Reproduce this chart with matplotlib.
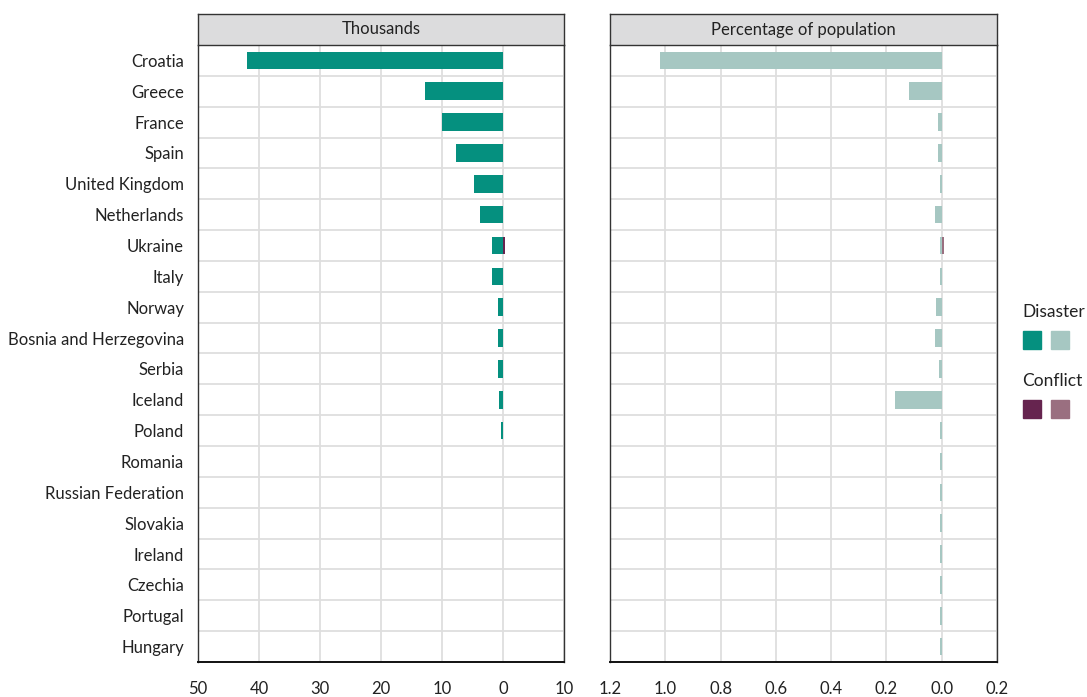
import matplotlib.pyplot as plt
from matplotlib.patches import Rectangle
from matplotlib.ticker import FixedLocator, FuncFormatter

plt.rcParams['font.family'] = ['Lato', 'DejaVu Sans']

# Données
pays = ['Croatia', 'Greece', 'France', 'Spain', 'United Kingdom', 'Netherlands',
        'Ukraine', 'Italy', 'Norway', 'Bosnia and Herzegovina', 'Serbia', 'Iceland',
        'Poland', 'Romania', 'Russian Federation', 'Slovakia', 'Ireland', 'Czechia',
        'Portugal', 'Hungary']
# milliers de personnes déplacées
disaster_k = [42.0, 12.8, 10.0, 7.7, 4.8, 3.8, 1.8, 1.8, 0.8, 0.8, 0.8, 0.6,
              0.3, 0.03, 0.03, 0.03, 0.03, 0.03, 0.03, 0.03]
conflict_k = [0, 0, 0, 0, 0, 0, 0.4, 0, 0, 0, 0, 0, 0, 0, 0, 0, 0, 0, 0, 0]
# pourcentage de la population
disaster_pct = [1.02, 0.12, 0.015, 0.015, 0.005, 0.025, 0.005, 0.005, 0.02, 0.025,
                0.01, 0.17, 0.005, 0.005, 0.005, 0.005, 0.005, 0.005, 0.005, 0.005]
conflict_pct = [0, 0, 0, 0, 0, 0, 0.01, 0, 0, 0, 0, 0, 0, 0, 0, 0, 0, 0, 0, 0]

teal, teal_l = '#05907f', '#a6c7c2'
plum, plum_l = '#66244f', '#9a6f80'

fig = plt.figure(figsize=(10.87, 6.97), dpi=100)
W, H = 1087, 697


def fx(px):
    return px / W


def fy(py):
    return 1 - py / H


y = list(range(len(pays)))
panneaux = [
    (198, 564, 'Thousands', disaster_k, conflict_k, teal, plum, (-50, 10), [-50, -40, -30, -20, -10, 0, 10], '{:.0f}'),
    (610, 997, 'Percentage of population', disaster_pct, conflict_pct, teal_l, plum_l, (-1.2, 0.2),
     [-1.2, -1.0, -0.8, -0.6, -0.4, -0.2, 0.0, 0.2], '{:.1f}'),
]

for i, (x0, x1, titre, dis, con, c_dis, c_con, lim, ticks, fmt) in enumerate(panneaux):
    ax = fig.add_axes([fx(x0), fy(662), fx(x1 - x0), fy(45) - fy(662)])
    ax.barh(y, [-v for v in dis], height=0.57, color=c_dis, zorder=3)
    ax.barh(y, con, height=0.57, color=c_con, zorder=3)
    ax.set_xlim(*lim)
    ax.set_ylim(len(pays) - 0.5, -0.5)
    ax.set_xticks(ticks)
    ax.xaxis.set_major_formatter(FuncFormatter(lambda v, p, f=fmt: f.format(abs(v))))
    ax.set_yticks(y)
    ax.yaxis.set_minor_locator(FixedLocator([k + 0.5 for k in y]))
    if i == 0:
        ax.set_yticklabels(pays, fontsize=12, color='#222222')
    else:
        ax.set_yticklabels([])
    ax.tick_params(axis='y', which='both', length=0, pad=10)
    ax.tick_params(axis='x', length=0, pad=14, labelsize=12, labelcolor='#222222')
    ax.grid(axis='x', color='#dedede', linewidth=1.3, zorder=0)
    ax.grid(axis='y', which='minor', color='#dedede', linewidth=1.3, zorder=0)
    for s in ax.spines.values():
        s.set_color('#333333')
        s.set_linewidth(1.0)
    ax.spines['top'].set_visible(False)
    ax.spines['bottom'].set_linewidth(1.4)
    ax.spines['bottom'].set_color('#111111')

    # bandeau de titre
    hx = fig.add_axes([fx(x0), fy(45), fx(x1 - x0), fy(14) - fy(45)])
    hx.set_facecolor('#dcdcdd')
    hx.set_xticks([])
    hx.set_yticks([])
    for s in hx.spines.values():
        s.set_color('#333333')
        s.set_linewidth(1.0)
    hx.text(0.5, 0.5, titre, ha='center', va='center', fontsize=12, color='#222222',
            transform=hx.transAxes)

# légende
for lab, ty, py, cols in [('Disaster', 312, 349, (teal, teal_l)), ('Conflict', 381, 418, (plum, plum_l))]:
    fig.text(fx(1022), fy(ty), lab, fontsize=12.5, color='#222222', va='center', ha='left')
    for k, c in enumerate(cols):
        fig.patches.append(Rectangle((fx(1023 + k * 28), fy(py)),
                                     fx(18), fy(0) - fy(18), color=c,
                                     transform=fig.transFigure, figure=fig))

fig.savefig('out.png', dpi=100)
